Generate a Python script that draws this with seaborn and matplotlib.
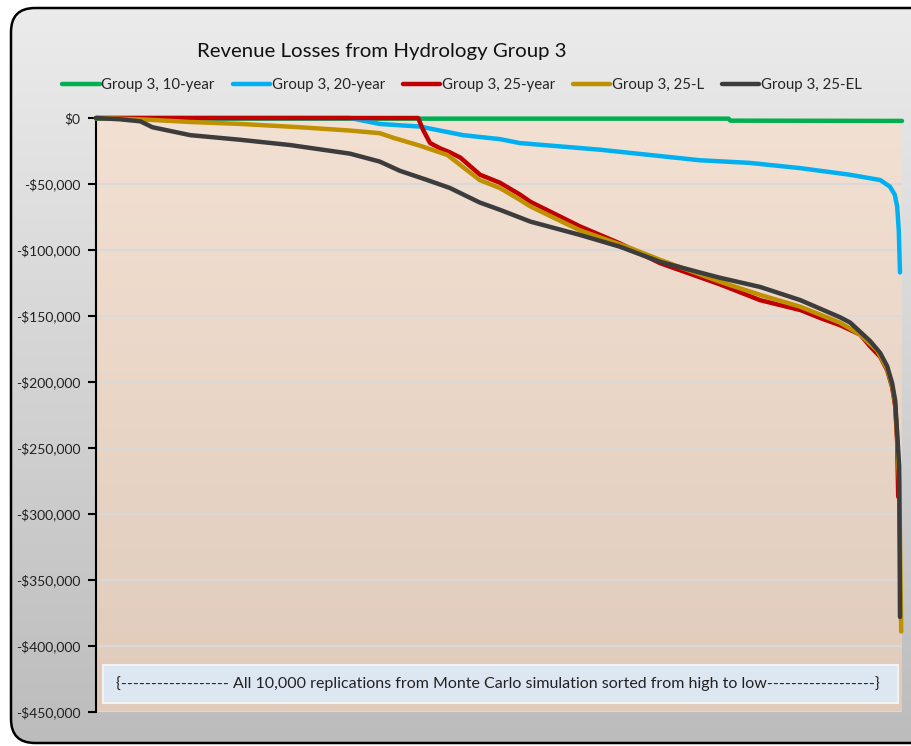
import numpy as np
import pandas as pd
import matplotlib
matplotlib.use('Agg')
import matplotlib.pyplot as plt
import seaborn as sns
from matplotlib.patches import FancyBboxPatch
from matplotlib.colors import LinearSegmentedColormap
from matplotlib.ticker import FuncFormatter

# replication index (sorted high to low) and revenue loss
g10_x = [0, 7850, 7870, 10000]
g10_y = [-500, -500, -2000, -2200]

g20_x = [0, 3150, 3520, 4020, 4555, 5010, 5260, 6250, 7490, 8110, 8740, 9355, 9730, 9850,
         9910, 9940, 9960, 9975]
g20_y = [0, 0, -4500, -6500, -13000, -16000, -19000, -24000, -32000, -34000, -38000, -43000,
         -47000, -52000, -58000, -67000, -85000, -117000]

g25_x = [0, 3996, 4058, 4145, 4270, 4390, 4520, 4765, 5010, 5260, 5390, 6000, 6500, 7000, 7740,
         8240, 8740, 8985, 9233, 9480, 9605, 9730, 9816, 9878, 9915, 9940, 9953]
g25_y = [0, 0, -9000, -19000, -23000, -26000, -30000, -43000, -49000, -58000, -63500, -82000,
         -95000, -110000, -126000, -138000, -145500, -151500, -157000, -164000, -173000, -181000,
         -191000, -204000, -218000, -245000, -287000]

g25l_x = [0, 550, 1170, 1790, 2530, 3150, 3520, 3690, 4020, 4360, 4760, 5010, 5260, 5390, 6000,
          6630, 7000, 7740, 8240, 8740, 9230, 9480, 9690, 9816, 9878, 9915, 9940, 9965, 9978,
          9990]
g25l_y = [0, -1000, -3000, -4500, -7000, -9500, -11500, -15000, -21000, -28000, -47000, -53000,
          -62000, -67000, -85000, -98500, -107500, -124000, -134000, -143000, -155000, -164000,
          -176000, -190000, -203000, -216000, -241000, -275000, -330000, -389000]

g25el_x = [0, 300, 550, 700, 1170, 1790, 2410, 3150, 3520, 3770, 4110, 4390, 4760, 5010, 5390,
           6000, 6500, 7000, 7490, 7740, 8240, 8740, 9233, 9357, 9481, 9605, 9729, 9816, 9878,
           9915, 9940, 9965, 9975]
g25el_y = [0, -1000, -2500, -7000, -13000, -16500, -20500, -27000, -33000, -40000, -47000,
           -53000, -64000, -69500, -78500, -88500, -97500, -109000, -117000, -121000, -128000,
           -138000, -151000, -155000, -162000, -169000, -178000, -188000, -201000, -214000,
           -239000, -264000, -378000]

series = [
    ('Group 3, 10-year', g10_x, g10_y, '#00b050'),
    ('Group 3, 20-year', g20_x, g20_y, '#00b0f0'),
    ('Group 3, 25-year', g25_x, g25_y, '#c00000'),
    ('Group 3, 25-L', g25l_x, g25l_y, '#bf9000'),
    ('Group 3, 25-EL', g25el_x, g25el_y, '#3c3c3c'),
]
yticks = list(range(-450000, 1, 50000))

sns.set_theme(style='white')
plt.rcParams['font.family'] = ['Lato', 'DejaVu Sans']

fig = plt.figure(figsize=(9.11, 7.46), dpi=100)
fig.patch.set_facecolor('white')

# rounded grey frame behind everything
bg = fig.add_axes([0, 0, 1, 1], zorder=0)
bg.set_xlim(0, 911)
bg.set_ylim(746, 0)
bg.axis('off')
gray = LinearSegmentedColormap.from_list('g', ['#ececec', '#bcbcbc'])
im = bg.imshow(np.linspace(0, 1, 256).reshape(-1, 1), cmap=gray,
               extent=[0, 911, 746, 0], aspect='auto')
frame = FancyBboxPatch((11, 8), 930, 735, boxstyle='round,pad=0,rounding_size=24',
                       fc='none', ec='black', lw=1.8)
bg.add_patch(frame)
im.set_clip_path(frame)

ax = fig.add_axes([96 / 911, 34 / 746, 806 / 911, 594 / 746], zorder=1)
ax.patch.set_alpha(0)
peach = LinearSegmentedColormap.from_list('p', ['#f2e0d2', '#e0cbbb'])
ax.imshow(np.linspace(0, 1, 256).reshape(-1, 1), cmap=peach,
          extent=[0, 10000, -450000, 0], aspect='auto', zorder=0)

for label, xs, ys, col in series:
    df = pd.DataFrame({'rep': xs, 'loss': ys})
    sns.lineplot(data=df, x='rep', y='loss', color=col, lw=3.2, label=label,
                 estimator=None, ax=ax, clip_on=False, zorder=3)

ax.set_xlim(0, 10000)
ax.set_ylim(-450000, 0)
ax.set_xticks([])
ax.set_yticks(yticks)
ax.yaxis.set_major_formatter(FuncFormatter(
    lambda v, p: '$0' if v == 0 else ('-${:,.0f}'.format(-v))))
ax.tick_params(axis='y', direction='out', length=6, width=1.5, color='black',
               labelsize=10, labelcolor='#222222', pad=5, left=True)
ax.set_xlabel('')
ax.set_ylabel('')
for y in yticks[:-1]:
    ax.axhline(y, color='#d9d9d9', lw=1.5, zorder=1)
for s in ['top', 'right', 'bottom']:
    ax.spines[s].set_visible(False)
ax.spines['left'].set_color('black')
ax.spines['left'].set_linewidth(1.5)

handles, labels = ax.get_legend_handles_labels()
ax.get_legend().remove()
fig.legend(handles, labels, loc='center', bbox_to_anchor=(462 / 911, 1 - 85 / 746), ncol=5,
           frameon=False, fontsize=10.8, handlelength=2.5, handletextpad=0.1,
           columnspacing=1.2)

fig.text(382 / 911, 1 - 52 / 746, 'Revenue Losses from Hydrology Group 3', fontsize=14.7,
         ha='center', va='center', color='#111111')

note = FancyBboxPatch((7 / 806, 9 / 594), 795 / 806, 38 / 594, boxstyle='square,pad=0',
                      transform=ax.transAxes, fc='#dde7f2', ec='#f2f2f2', lw=1.5, zorder=4)
ax.add_patch(note)
ax.text(0.498, 28 / 594,
        '{------------------ All 10,000 replications from Monte Carlo simulation sorted from high to low------------------}',
        transform=ax.transAxes, ha='center', va='center', fontsize=11.5, color='#222222',
        zorder=5)

fig.savefig('out.png', dpi=100)
